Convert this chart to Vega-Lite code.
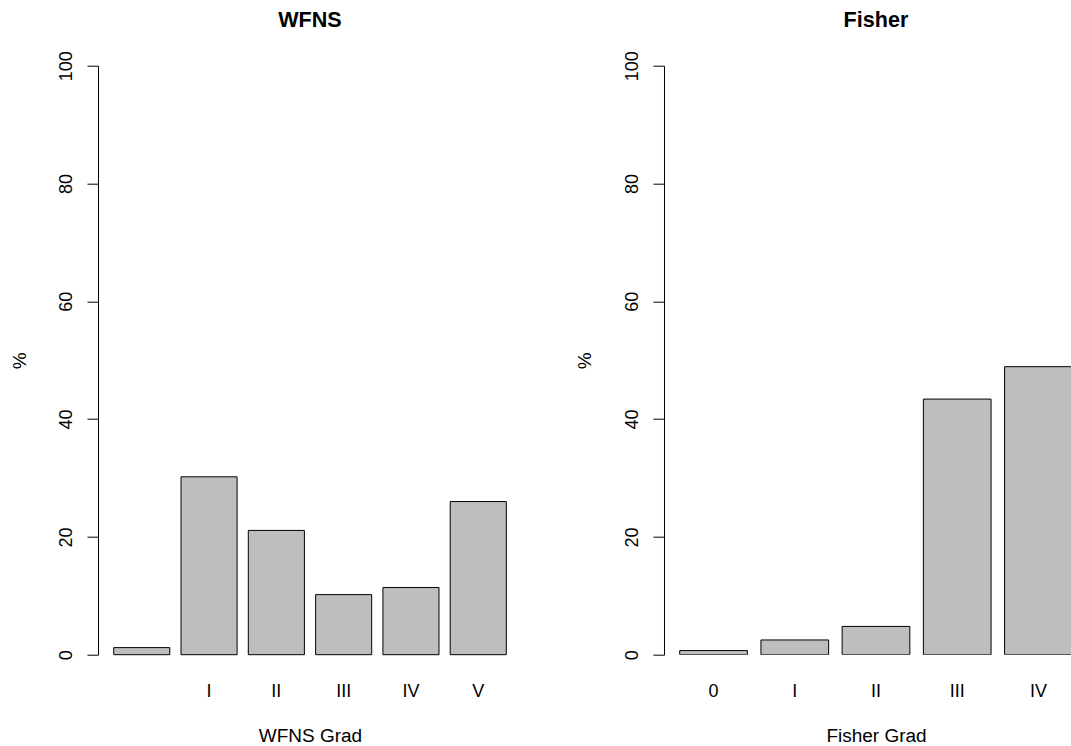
{
  "$schema": "https://vega.github.io/schema/vega-lite/v6.json",
  "padding": {"left": 10, "top": 9.7, "right": 0, "bottom": 0},
  "bounds": "flush",
  "spacing": 142,
  "background": "white",
  "config": {
    "font": "Liberation Sans",
    "view": {"stroke": null},
    "axis": {
      "labelFont": "Liberation Sans",
      "titleFont": "Liberation Sans",
      "labelColor": "#000",
      "titleColor": "#000",
      "labelFontSize": 18,
      "titleFontSize": 19,
      "titleFontWeight": "normal",
      "grid": false
    },
    "title": {"font": "Liberation Sans", "fontSize": 21.6, "fontWeight": "bold", "color": "#000"}
  },
  "datasets": {
    "wfns": [
      {"grade": "0", "pct": 1.2},
      {"grade": "I", "pct": 30.2},
      {"grade": "II", "pct": 21.1},
      {"grade": "III", "pct": 10.2},
      {"grade": "IV", "pct": 11.4},
      {"grade": "V", "pct": 26.0}
    ],
    "fisher": [
      {"grade": "0", "pct": 0.7},
      {"grade": "I", "pct": 2.5},
      {"grade": "II", "pct": 4.8},
      {"grade": "III", "pct": 43.4},
      {"grade": "IV", "pct": 48.9}
    ]
  },
  "hconcat": [
    {
      "title": {"text": "WFNS", "offset": 1.6, "baseline": "alphabetic"},
      "width": 424,
      "height": 589,
      "data": {"name": "wfns"},
      "mark": {"type": "bar", "fill": "#bebebe", "stroke": "#000", "strokeWidth": 1},
      "encoding": {
        "x": {
          "field": "grade", "type": "nominal", "sort": null,
          "scale": {"paddingInner": 0.16667, "paddingOuter": 0.23333},
          "axis": {
            "title": "WFNS Grad", "labelAngle": 0, "domain": false, "ticks": false, "tickSize": 0,
            "labelPadding": 41.7, "labelBaseline": "alphabetic",
            "labelExpr": "datum.value === '0' ? '' : datum.value",
            "titleX": 212, "titleY": 86.7, "titleBaseline": "alphabetic", "titleAlign": "center"
          }
        },
        "y": {
          "field": "pct", "type": "quantitative",
          "scale": {"domain": [0, 100]},
          "axis": {
            "title": "%", "values": [0, 20, 40, 60, 80, 100], "tickSize": 11,
            "labelAngle": -90, "labelAlign": "center", "labelBaseline": "alphabetic", "labelPadding": 15.3,
            "domainColor": "#000", "tickColor": "#000",
            "titleX": -73, "titleY": 294.5, "titleBaseline": "alphabetic", "titleAngle": -90, "titleAlign": "center"
          }
        }
      }
    },
    {
      "title": {"text": "Fisher", "offset": 1.6, "baseline": "alphabetic", "dx": 8.5},
      "width": 407,
      "height": 589,
      "data": {"name": "fisher"},
      "mark": {"type": "bar", "fill": "#bebebe", "stroke": "#000", "strokeWidth": 1, "clip": true},
      "encoding": {
        "x": {
          "field": "grade", "type": "nominal", "sort": null,
          "scale": {"paddingInner": 0.16667, "paddingOuter": 0.19333, "range": [0, 424]},
          "axis": {
            "title": "Fisher Grad", "labelAngle": 0, "domain": false, "ticks": false, "tickSize": 0,
            "labelPadding": 41.7, "labelBaseline": "alphabetic",
            "titleX": 212, "titleY": 86.7, "titleBaseline": "alphabetic", "titleAlign": "center"
          }
        },
        "y": {
          "field": "pct", "type": "quantitative",
          "scale": {"domain": [0, 100]},
          "axis": {
            "title": "%", "values": [0, 20, 40, 60, 80, 100], "tickSize": 11,
            "labelAngle": -90, "labelAlign": "center", "labelBaseline": "alphabetic", "labelPadding": 15.3,
            "domainColor": "#000", "tickColor": "#000",
            "titleX": -73, "titleY": 294.5, "titleBaseline": "alphabetic", "titleAngle": -90, "titleAlign": "center"
          }
        }
      }
    }
  ]
}
